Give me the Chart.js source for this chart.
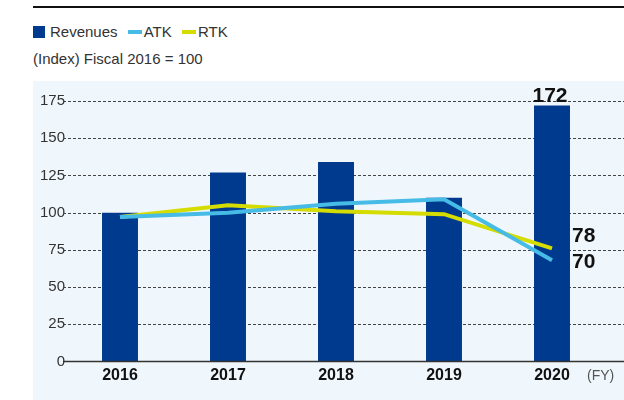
<!DOCTYPE html>
<html>
<head>
<meta charset="utf-8">
<script src="https://cdn.jsdelivr.net/npm/chart.js@4/dist/chart.umd.min.js"></script>
<style>
  body { margin: 0; width: 624px; height: 400px; overflow: hidden; background: #fff; font-family: "Liberation Sans", Arial, sans-serif; color: #333; }
  #topline { position: absolute; left: 33px; top: 6px; width: 591px; height: 2px; background: #111; }
  #legend { position: absolute; left: 33px; top: 22px; font-size: 15px; line-height: 18px; white-space: nowrap; }
  #legend span { display: inline-block; vertical-align: middle; }
  .sq { width: 12px; height: 12px; background: #003a8f; margin-right: 5px; }
  .ln { width: 14px; height: 4px; margin-right: 2px; margin-left: 6px; }
  #sub { position: absolute; left: 33px; top: 50px; font-size: 15px; line-height: 18px; }
  #panel { position: absolute; left: 33px; top: 81px; right: 0; bottom: 0; background: #f0f7fc; }
  #myChart { position: absolute; left: 0; top: 0; }
</style>
</head>
<body>
<div id="topline"></div>
<div id="legend">
  <span class="sq"></span><span>Revenues</span>
  <span class="ln" style="background:#45bbe6"></span><span>ATK</span>
  <span class="ln" style="background:#d4dc00"></span><span>RTK</span>
</div>
<div id="sub">(Index) Fiscal 2016 = 100</div>
<div id="panel"></div>
<canvas id="myChart" width="624" height="400"></canvas>
<script>
const years = ['2016', '2017', '2018', '2019', '2020']
const revenues = [100, 127, 134, 110, 172]
const atk = [97, 100, 106, 109, 68]
const rtk = [97, 105, 101, 99, 76]
const yTicks = [0, 25, 50, 75, 100, 125, 150, 175]
const endLabels = ['172', '78', '70']   // printed values at fiscal 2020

const font = '"Liberation Sans", Arial, sans-serif'

// dashed grid lines across the panel + solid base line
const gridPlugin = {
  id: 'grid',
  beforeDatasetsDraw(chart) {
    const ctx = chart.ctx
    const y = chart.scales.y
    ctx.save()
    ctx.strokeStyle = '#444'
    ctx.lineWidth = 1
    ctx.setLineDash([3, 2])
    yTicks.forEach((v) => {
      if (v === 0) return
      const py = Math.round(y.getPixelForValue(v)) + 0.5
      ctx.beginPath()
      ctx.moveTo(63, py)
      ctx.lineTo(624, py)
      ctx.stroke()
    })
    ctx.restore()
  },
  afterDatasetsDraw(chart) {
    const ctx = chart.ctx
    const y = chart.scales.y
    const py = y.getPixelForValue(0)
    ctx.save()
    ctx.strokeStyle = '#333'
    ctx.lineWidth = 1.5
    ctx.beginPath()
    ctx.moveTo(63, py)
    ctx.lineTo(624, py)
    ctx.stroke()

    // value labels
    ctx.fillStyle = '#111'
    ctx.font = 'bold 21px ' + font
    ctx.textBaseline = 'middle'
    const bar = chart.getDatasetMeta(0).data[4]
    ctx.textAlign = 'center'
    ctx.fillText(endLabels[0], bar.x - 2, bar.y - 9)
    const rtkPt = chart.getDatasetMeta(2).data[4]
    const atkPt = chart.getDatasetMeta(1).data[4]
    ctx.textAlign = 'left'
    ctx.fillText(endLabels[1], 572, rtkPt.y - 12)
    ctx.fillText(endLabels[2], 572, atkPt.y + 2)

    // (FY) unit
    ctx.font = '14px ' + font
    ctx.fillStyle = '#555'
    ctx.fillText('(FY)', 587, 376)
    ctx.restore()
  }
}

var ctx = document.getElementById('myChart')
var myChart = new Chart(ctx, {
  type: 'bar',
  data: {
    labels: years,
    datasets: [{
      label: 'Revenues',
      data: revenues,
      backgroundColor: '#003a8f',
      categoryPercentage: 1,
      barPercentage: 0.333,
      order: 2
    }, {
      type: 'line',
      label: 'ATK',
      data: atk,
      borderColor: '#45bbe6',
      borderWidth: 4,
      pointRadius: 0,
      tension: 0,
      order: 0
    }, {
      type: 'line',
      label: 'RTK',
      data: rtk,
      borderColor: '#d4dc00',
      borderWidth: 4,
      pointRadius: 0,
      tension: 0,
      order: 1
    }]
  },
  options: {
    responsive: false,
    animation: false,
    devicePixelRatio: 1,
    layout: { padding: { left: 0, top: 101, right: 18, bottom: 0 } },
    plugins: { legend: { display: false }, tooltip: { enabled: false } },
    scales: {
      x: {
        grid: { display: false, drawTicks: false },
        border: { display: false },
        ticks: { color: '#111', font: { family: font, size: 16, weight: 'bold' }, padding: 4 },
        afterFit(scale) { scale.height = 38.5 }
      },
      y: {
        min: 0,
        max: 175,
        grid: { display: false, drawTicks: false },
        border: { display: false },
        ticks: { stepSize: 25, color: '#333', font: { family: font, size: 15 }, padding: 1 },
        afterFit(scale) { scale.width = 66 }
      }
    }
  },
  plugins: [gridPlugin]
})
</script>
</body>
</html>
